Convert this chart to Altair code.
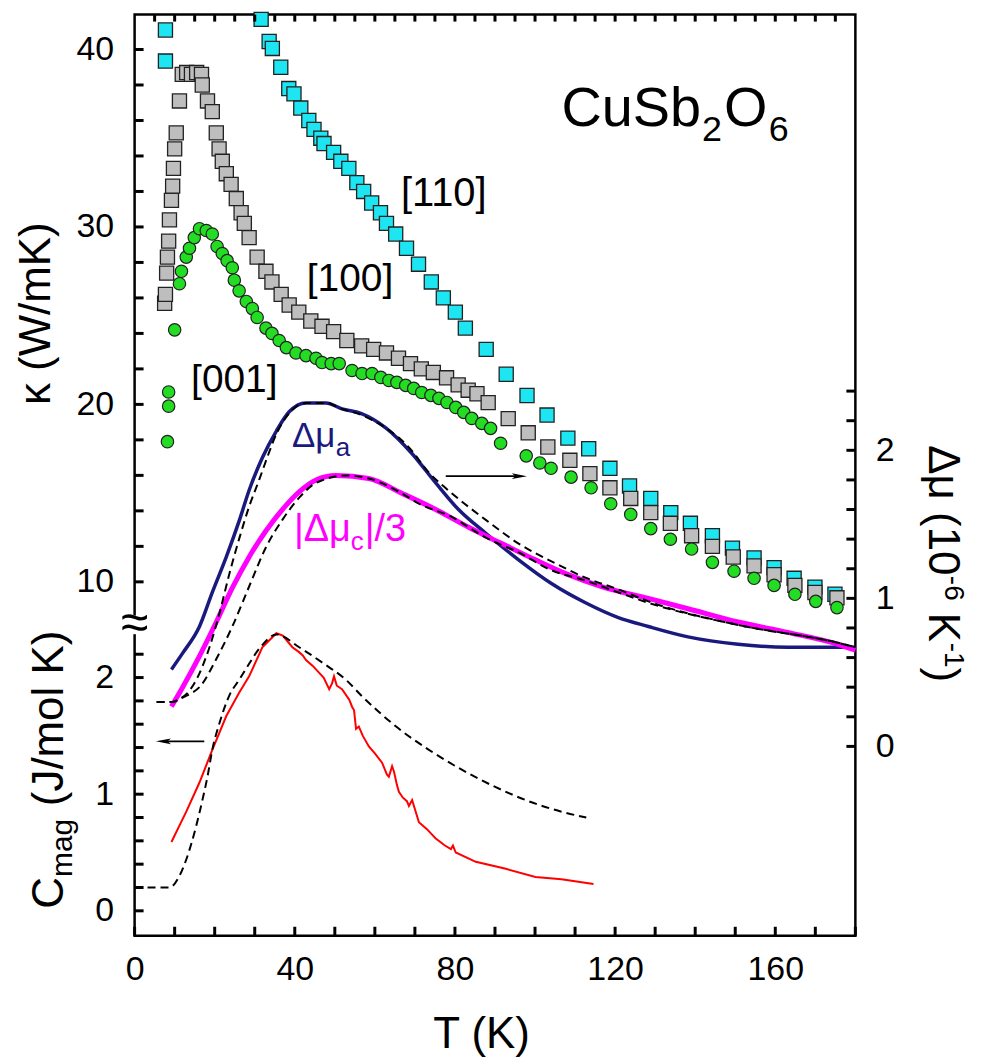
import altair as alt
import pandas as pd

# ---------------- data ----------------
# [110] kappa (W/mK)
cyan_T = [7.7, 7.7, 31.6, 33.6, 34.4, 36.5, 38.5, 39.8, 41.5, 43.5, 44.8, 46.5, 47.3,
          49.7, 51.5, 53.5, 55.5, 57.2, 59.2, 61.4, 62.9, 65.2, 67.9, 70.9, 74.1, 77.1,
          80.1, 82.6, 87.8, 92.8, 98.0, 103.0, 108.2, 113.4, 118.7, 123.6, 128.9, 133.9,
          138.8, 144.3, 149.3, 154.7, 159.7, 164.7, 169.9, 174.9]
cyan_k = [41.1, 39.35, 41.7, 40.45, 40.06, 39.0, 37.8, 37.5, 36.7, 36.0, 35.5, 35.0, 34.7,
          34.2, 33.7, 33.3, 32.5, 32.0, 31.35, 30.8, 30.2, 29.6, 28.8, 27.9, 26.9, 26.0,
          25.2, 24.3, 23.1, 21.7, 20.5, 19.4, 18.1, 17.5, 16.4, 15.4, 14.7, 13.9,
          13.3, 12.6, 11.9, 11.35, 10.8, 10.2, 9.7, 9.3]

# [100] kappa
grey_T = [7.5, 7.7, 8.0, 8.2, 8.5, 8.7, 9.2, 9.5, 9.7, 10.0, 10.4, 11.2, 11.9, 13.0, 14.2,
          15.5, 16.7, 16.9, 18.2, 19.4, 20.4, 21.1, 21.9, 22.9, 24.1, 25.4, 26.6, 27.4,
          28.6, 30.6, 32.8, 34.3, 36.6, 38.6, 41.0, 44.0, 46.8, 49.7, 53.0, 56.7, 59.7,
          62.9, 65.9, 68.9, 71.6, 74.6, 77.9, 80.8, 83.3, 85.5, 88.3, 93.3, 98.3, 103.2,
          108.7, 113.7, 118.7, 123.9, 128.9, 133.8, 139.1, 144.3, 149.5, 154.7, 159.7,
          164.9, 169.9, 175.4]
grey_k = [25.7, 26.2, 27.4, 28.3, 29.2, 30.4, 31.5, 32.3, 33.3, 34.4, 35.3, 37.1, 38.6, 38.7,
          38.6, 38.7, 38.6, 38.0, 37.1, 36.5, 35.3, 34.4, 33.7, 33.0, 32.4, 31.6, 30.8, 30.2,
          29.4, 28.3, 27.5, 26.9, 26.2, 25.6, 25.2, 24.7, 24.4, 24.1, 23.6, 23.3, 23.1,
          22.9, 22.6, 22.3, 22.0, 21.8, 21.5, 21.1, 20.8, 20.6, 20.1, 19.2, 18.4, 17.6,
          16.85, 16.1, 15.3, 14.7, 13.9, 13.3, 12.6, 12.0, 11.4, 10.9, 10.4,
          9.8, 9.4, 9.1]

# [001] kappa
green_T = [8.2, 8.5, 8.5, 10.0, 11.2, 11.7, 12.9, 13.7, 14.9, 16.2, 17.9, 19.4, 20.6, 21.9,
           23.1, 24.4, 24.9, 26.1, 27.9, 29.4, 30.6, 32.8, 34.3, 36.1, 37.9, 40.3, 42.8,
           45.3, 46.8, 49.1, 51.1, 54.3, 56.8, 59.3, 61.5, 63.5, 65.5, 67.7, 69.7, 71.7,
           74.0, 76.0, 78.0, 80.2, 82.2, 84.2, 86.7, 88.9, 91.4, 97.8, 101.2, 104.0, 109.0,
           114.0, 118.9, 123.9, 128.9, 133.8, 139.1, 144.3, 149.7, 154.7, 159.7, 164.9,
           170.1, 175.4]
green_k = [17.9, 19.9, 20.7, 24.2, 26.8, 27.5, 28.3, 28.8, 29.4, 29.9, 29.8, 29.6, 28.9, 28.5,
           28.1, 27.7, 27.0, 26.4, 25.8, 25.4, 24.9, 24.3, 24.0, 23.6, 23.2, 22.9, 22.75,
           22.6, 22.36, 22.3, 22.3, 21.91, 21.74, 21.74, 21.52, 21.35, 21.24, 21.07, 20.9,
           20.67, 20.51, 20.34, 20.11, 19.83, 19.55, 19.21, 18.93, 18.65, 17.81, 17.1, 16.7,
           16.4, 15.9, 15.3, 14.4, 13.8, 13.0, 12.4, 11.85, 11.1, 10.6, 10.2, 9.8, 9.3,
           8.9, 8.55]

# Delta mu_a (10^-6 K^-1)
blue_T = [9.2, 12.0, 16.2, 19.4, 22.9, 26.2, 28.6, 31.9, 35.4, 38.6, 42.8, 47.8, 51.8, 56.5,
          62.8, 69.2, 75.2, 80.9, 87.7, 95.9, 104.1, 112.6, 120.8, 128.3, 138.2, 150.7,
          163.1, 180.0]
blue_m = [0.52, 0.63, 0.81, 1.04, 1.28, 1.53, 1.73, 1.95, 2.13, 2.26, 2.32, 2.32, 2.28, 2.25,
          2.15, 1.98, 1.78, 1.60, 1.44, 1.26, 1.10, 0.97, 0.87, 0.81, 0.74, 0.69,
          0.67, 0.67]

# |Delta mu_c|/3
mag_T = [9.2, 12.0, 16.2, 20.4, 24.4, 28.6, 32.9, 36.9, 41.1, 45.3, 50.3, 58.5, 66.7, 75.2,
         83.4, 91.7, 100.1, 108.3, 116.6, 128.3, 138.2, 150.7, 163.1, 175.6, 180.0]
mag_m = [0.27, 0.40, 0.61, 0.84, 1.07, 1.28, 1.46, 1.60, 1.72, 1.80, 1.83, 1.81, 1.71, 1.60,
         1.48, 1.37, 1.26, 1.16, 1.08, 1.00, 0.93, 0.84, 0.77, 0.69, 0.65]

# dashed fits
fitA_T = [5.5, 9.5, 11.2, 13.5, 15.4, 18.7, 21.2, 23.7, 26.2, 28.6, 31.1, 33.5, 35.4, 38.6,
          42.8, 47.8, 51.8, 56.5, 62.8, 68.5, 73.5, 79.2, 87.7, 95.9, 104.1, 112.6, 120.8,
          128.3, 150.7, 175.6, 180.0]
fitA_m = [0.30, 0.30, 0.32, 0.37, 0.45, 0.67, 0.90, 1.17, 1.41, 1.62, 1.80, 1.98, 2.11, 2.25,
          2.32, 2.32, 2.28, 2.24, 2.15, 2.02, 1.85, 1.71, 1.53, 1.37, 1.25, 1.14, 1.06,
          0.98, 0.82, 0.70, 0.67]
fitB_T = [5.5, 9.5, 11.2, 13.5, 16.2, 20.4, 24.4, 28.6, 32.9, 36.9, 41.1, 45.3, 52.8, 58.5,
          66.7, 71.0, 79.2, 87.7, 95.9, 104.1, 112.6, 120.8, 128.3, 150.7, 175.6, 180.0]
fitB_m = [0.30, 0.30, 0.32, 0.35, 0.40, 0.59, 0.81, 1.08, 1.35, 1.53, 1.68, 1.78, 1.83, 1.81,
          1.71, 1.64, 1.55, 1.41, 1.31, 1.19, 1.12, 1.04, 0.97, 0.82, 0.70, 0.67]

# C_mag (J/mol K)
cmag_T = [9.2, 12.9, 16.2, 19.4, 22.9, 26.1, 28.6, 31.9, 35.4, 37.0, 39.4, 41.0, 42.0, 42.8,
          44.5, 46.1, 47.2, 48.6, 49.3, 49.8, 50.5, 51.8, 53.6, 54.3, 54.8, 55.3, 56.0, 57.0,
          58.5, 60.0, 61.8, 63.0, 63.5, 64.3, 64.8, 65.5, 66.0, 67.0, 68.0, 68.5, 69.3,
          70.2, 71.0, 73.0, 75.2, 77.5, 79.0, 79.5, 80.2, 85.2, 92.7, 100.1, 106.6, 114.6]
cmag_c = [0.59, 0.85, 1.10, 1.38, 1.67, 1.87, 2.01, 2.26, 2.38, 2.36, 2.26, 2.22, 2.19, 2.15,
          2.10, 2.04, 2.00, 1.90, 1.95, 2.01, 1.93, 1.90, 1.81, 1.75, 1.72, 1.56, 1.58, 1.50,
          1.41, 1.35, 1.27, 1.17, 1.15, 1.24, 1.19, 1.08, 1.02, 0.97, 0.94, 0.90, 0.95,
          0.85, 0.76, 0.70, 0.62, 0.56, 0.53, 0.56, 0.50, 0.42, 0.36, 0.29, 0.27, 0.23]
fitC_T = [0, 8.7, 11.2, 12.9, 15.4, 17.0, 18.2, 19.4, 21.2, 23.7, 26.1, 27.9, 31.9, 35.4,
          41.1, 46.8, 52.8, 56.8, 65.3, 73.5, 81.7, 90.2, 98.4, 106.6, 112.8]
fitC_c = [0.20, 0.20, 0.30, 0.44, 0.73, 0.96, 1.15, 1.38, 1.61, 1.85, 1.98, 2.08, 2.28, 2.37,
          2.26, 2.13, 1.98, 1.84, 1.58, 1.38, 1.21, 1.06, 0.94, 0.85, 0.80]

# arrows (start, end)
arrowR_T = [77.7, 96.1]
arrowR_m = [1.825, 1.825]
arrowL_T = [17.4, 7.2]
arrowL_c = [1.453, 1.453]

# tick values
x_ticks = list(range(0, 181, 10))
x_top_ticks = list(range(5, 180, 5))
k_ticks = list(range(10, 41, 2))
c_ticks = [0, 0.2, 0.4, 0.6, 0.8, 1, 1.2, 1.4, 1.6, 1.8, 2, 2.2]
m_ticks = [0, 0.2, 0.4, 0.6, 0.8, 1, 1.2, 1.4, 1.6, 1.8, 2, 2.2, 2.4]

# ---------------- styling ----------------
FONT = "Liberation Sans"
W, H = 723, 924
CYAN, GREY, GREEN = "#1DE5F2", "#BEBEBE", "#22DD22"
NAVY, MAGENTA, RED = "#1A1A7E", "#FF00FF", "#FF0000"
EDGE = "#222222"
TICK_W = 3

XDOM = [0, 180]
KDOM = [-9.944, 41.966]
CDOM = [-0.2137, 7.684]
MDOM = [-1.279, 4.943]
xs = alt.Scale(domain=XDOM, nice=False, zero=False)
ks = alt.Scale(domain=KDOM, nice=False, zero=False)
cs = alt.Scale(domain=CDOM, nice=False, zero=False)
ms = alt.Scale(domain=MDOM, nice=False, zero=False)

# tick lengths expressed in data units of each scale (9 px inward, 7 px on top)
dT = 9 * (XDOM[1] - XDOM[0]) / W
dC = 9 * (CDOM[1] - CDOM[0]) / H
dK_top = 7 * (KDOM[1] - KDOM[0]) / H

# axes carry the labels only; tick marks are drawn as short lines pointing inwards
base_axis = dict(domain=False, grid=False, ticks=True, tickOpacity=0, tickSize=8, offset=-8,
                 labelColor="black", labelFont=FONT, labelFontSize=34, title=None,
                 labelOverlap=False, labelFlush=False, zindex=2)
int_lbl = "abs(datum.value - round(datum.value)) < 0.001 ? format(datum.value, 'd') : ''"

x_bottom = alt.Axis(orient="bottom", values=x_ticks, labelPadding=17,
                    labelExpr="datum.value % 40 == 0 ? datum.label : ''", **base_axis)
y_k = alt.Axis(orient="left", values=k_ticks, labelPadding=21,
               labelExpr="datum.value % 10 == 0 ? datum.label : ''", **base_axis)
y_c = alt.Axis(orient="left", values=c_ticks, labelPadding=21, labelExpr=int_lbl, **base_axis)
y_m = alt.Axis(orient="right", values=m_ticks, labelPadding=20, labelExpr=int_lbl, **base_axis)


def X(axis=None):
    return alt.X("T:Q", scale=xs, axis=axis)


def df(**cols):
    return pd.DataFrame(cols)


layers = []

# scatter series
layers.append(alt.Chart(df(T=cyan_T, v=cyan_k)).mark_square(
    size=200, color=CYAN, stroke=EDGE, strokeWidth=1.3, opacity=1).encode(
    x=X(x_bottom), y=alt.Y("v:Q", scale=ks, axis=y_k)))
layers.append(alt.Chart(df(T=grey_T, v=grey_k)).mark_square(
    size=200, color=GREY, stroke=EDGE, strokeWidth=1.3, opacity=1).encode(
    x=X(), y=alt.Y("v:Q", scale=ks, axis=None)))
layers.append(alt.Chart(df(T=green_T, v=green_k)).mark_circle(
    size=155, color=GREEN, stroke=EDGE, strokeWidth=1.2, opacity=1).encode(
    x=X(), y=alt.Y("v:Q", scale=ks, axis=None)))

# thermal expansion curves (right axis)
layers.append(alt.Chart(df(T=blue_T, v=blue_m)).mark_line(
    color=NAVY, strokeWidth=3.5, interpolate="monotone").encode(
    x=X(), y=alt.Y("v:Q", scale=ms, axis=y_m)))
layers.append(alt.Chart(df(T=mag_T, v=mag_m)).mark_line(
    color=MAGENTA, strokeWidth=5, interpolate="monotone").encode(
    x=X(), y=alt.Y("v:Q", scale=ms, axis=None)))
for tt, vv in ((fitA_T, fitA_m), (fitB_T, fitB_m)):
    layers.append(alt.Chart(df(T=tt, v=vv)).mark_line(
        color="black", strokeWidth=2, strokeDash=[8, 5], interpolate="monotone").encode(
        x=X(), y=alt.Y("v:Q", scale=ms, axis=None)))

# magnetic specific heat (lower left axis)
layers.append(alt.Chart(df(T=cmag_T, v=cmag_c)).mark_line(
    color=RED, strokeWidth=2).encode(
    x=X(), y=alt.Y("v:Q", scale=cs, axis=y_c)))
layers.append(alt.Chart(df(T=fitC_T, v=fitC_c)).mark_line(
    color="black", strokeWidth=2, strokeDash=[8, 5], interpolate="monotone").encode(
    x=X(), y=alt.Y("v:Q", scale=cs, axis=None)))

# arrows
head_r = "M-1,-0.38L1,0L-1,0.38L-0.55,0Z"
head_l = "M1,-0.38L-1,0L1,0.38L0.55,0Z"
for tt, vv, sc, shape in ((arrowR_T, arrowR_m, ms, head_r), (arrowL_T, arrowL_c, cs, head_l)):
    layers.append(alt.Chart(df(T=tt, v=vv)).mark_line(color="black", strokeWidth=1.8).encode(
        x=X(), y=alt.Y("v:Q", scale=sc, axis=None)))
    layers.append(alt.Chart(df(T=tt[-1:], v=vv[-1:])).mark_point(
        shape=shape, size=230, filled=True, color="black", opacity=1).encode(
        x=X(), y=alt.Y("v:Q", scale=sc, axis=None)))


# inward tick marks as two-point line segments in data units
def hticks(vals, sc, t0, t1):
    rows = [(t, v, i) for i, v in enumerate(vals) for t in (t0, t1)]
    d = pd.DataFrame(rows, columns=["T", "v", "g"])
    return alt.Chart(d).mark_line(color="black", strokeWidth=TICK_W, strokeCap="butt").encode(
        x=X(), y=alt.Y("v:Q", scale=sc, axis=None), detail="g:N")


def vticks(vals, sc, v0, v1):
    rows = [(t, v, i) for i, t in enumerate(vals) for v in (v0, v1)]
    d = pd.DataFrame(rows, columns=["T", "v", "g"])
    return alt.Chart(d).mark_line(color="black", strokeWidth=TICK_W, strokeCap="butt").encode(
        x=X(), y=alt.Y("v:Q", scale=sc, axis=None), detail="g:N")


layers += [
    hticks(k_ticks, ks, XDOM[0], XDOM[0] + dT),
    hticks(c_ticks, cs, XDOM[0], XDOM[0] + dT),
    hticks(m_ticks, ms, XDOM[1] - dT, XDOM[1]),
    vticks(x_ticks, cs, CDOM[0], CDOM[0] + dC),
    vticks(x_top_ticks, ks, KDOM[1] - dK_top, KDOM[1]),
]

# axis break on the left frame
layers.append(alt.Chart(df(a=[8.1], b=[7.05])).mark_rect(color="white").encode(
    x=alt.value(-5), x2=alt.value(5),
    y=alt.Y("a:Q", scale=ks, axis=None), y2="b:Q"))
layers.append(alt.Chart(df(s=["≈"], v=[7.65])).mark_text(
    font=FONT, fontSize=50, align="center", baseline="middle", color="black").encode(
    x=alt.value(0), y=alt.Y("v:Q", scale=ks, axis=None), text="s:N"))


def note(text, T, k, size, color="black", align="left", baseline="alphabetic", dx=0, dy=0):
    return alt.Chart(df(s=[text], T=[T], v=[k])).mark_text(
        font=FONT, fontSize=size, color=color, align=align, baseline=baseline,
        dx=dx, dy=dy).encode(x=X(), y=alt.Y("v:Q", scale=ks, axis=None), text="s:N")


def px(text, x, y, size, angle=0, align="left", baseline="alphabetic", dx=0, dy=0):
    return alt.Chart(df(s=[text])).mark_text(
        font=FONT, fontSize=size, color="black", align=align, baseline=baseline,
        angle=angle, dx=dx, dy=dy).encode(x=alt.value(x), y=alt.value(y), text="s:N")


# in-plot labels
layers += [
    note("[110]", 77.2, 31.85, 40, align="center", baseline="middle"),
    note("[100]", 53.8, 27.08, 39, align="center", baseline="middle"),
    note("[001]", 24.9, 21.35, 39, align="center", baseline="middle"),
    note("Δμ", 39.3, 17.58, 35, color=NAVY),
    note("a", 39.3, 17.58, 26, color=NAVY, dx=44, dy=9),
    note("|Δμ", 39.8, 12.30, 38, color=MAGENTA),
    note("c", 39.8, 12.30, 26, color=MAGENTA, dx=57, dy=9),
    note("|/3", 39.8, 12.30, 38, color=MAGENTA, dx=71),
    note("CuSb", 106.6, 35.67, 56),
    note("2", 106.6, 35.67, 36, dx=141, dy=15),
    note("O", 106.6, 35.67, 56, dx=163),
    note("6", 106.6, 35.67, 36, dx=208, dy=15),
]

# axis titles
layers += [
    px("κ (W/mK)", -85, 300, 44, angle=270, align="center"),
    px("C", -72, 897, 44, angle=270),
    px("mag", -72, 897, 30, angle=270, dx=32, dy=9),
    px("(J/mol K)", -72, 897, 44, angle=270, dx=103),
    px("Δμ", 797, 432, 44, angle=90),
    px("(10", 797, 432, 44, angle=90, dx=67),
    px("-6", 797, 432, 28, angle=90, dx=131, dy=-16),
    px("K", 797, 432, 44, angle=90, dx=168),
    px("-1", 797, 432, 28, angle=90, dx=198, dy=-16),
    px(")", 797, 432, 44, angle=90, dx=223),
    px("T (K)", 348, 1037, 44, align="center"),
]

chart = (
    alt.layer(*layers)
    .resolve_scale(y="independent")
    .resolve_axis(x="independent", y="independent")
    .properties(width=W, height=H,
                autosize=alt.AutoSizeParams(type="none"),
                padding={"left": 127, "top": 5, "right": 120, "bottom": 122})
    .configure(background="white")
    .configure_view(stroke="black", strokeWidth=2.5)
)

chart.save("out.html", embed_options={"renderer": "svg", "actions": False})
